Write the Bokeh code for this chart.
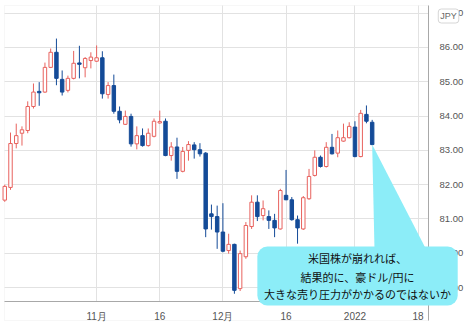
from bokeh.plotting import figure
from bokeh.models import (Range1d, FixedTicker, PrintfTickFormatter, ColumnDataSource,
                          BoxAnnotation, Label, Grid)
from bokeh.embed import file_html
from bokeh.resources import INLINE

# ---- data (AUD/JPY daily candles) ----
opens = [81.55, 81.92, 83.20, 83.50, 83.58, 84.28, 84.72, 84.70, 85.42, 85.86,
         85.07, 84.75, 85.10, 85.55, 85.41, 85.62, 85.60, 85.70, 84.63, 84.89,
         84.14, 83.76, 83.99, 83.19, 83.43, 83.14, 83.41, 83.80, 83.85, 82.85,
         83.10, 82.39, 83.00, 83.16, 83.02, 82.92, 81.15, 81.07, 80.62, 80.08,
         80.26, 78.97, 79.90, 80.78, 81.49, 81.10, 81.07, 80.96, 80.71, 81.69,
         81.56, 80.98, 80.71, 81.59, 82.27, 82.80, 82.53, 83.09, 82.92, 83.27,
         83.37, 83.68, 82.82, 84.05, 83.82]
highs = [82.00, 83.52, 83.78, 83.70, 84.43, 84.95, 84.99, 85.56, 85.97, 86.26,
         85.33, 85.18, 85.90, 86.05, 85.72, 85.86, 86.06, 85.89, 84.99, 85.21,
         84.28, 84.16, 84.07, 83.70, 83.64, 83.64, 83.93, 84.16, 83.93, 83.24,
         83.37, 83.10, 83.27, 83.24, 83.21, 82.95, 81.42, 81.39, 81.46, 80.57,
         80.28, 80.08, 80.91, 81.69, 81.69, 81.54, 81.25, 81.15, 81.88, 82.43,
         81.64, 81.10, 81.67, 82.46, 83.00, 82.85, 83.24, 83.48, 83.58, 83.78,
         83.82, 83.85, 84.18, 84.31, 83.89]
lows = [81.50, 81.85, 83.06, 83.14, 83.50, 84.22, 84.30, 84.68, 85.40, 84.90,
        84.60, 84.69, 85.07, 85.10, 85.13, 85.39, 85.58, 84.51, 84.51, 84.07,
        83.79, 83.74, 83.11, 83.03, 83.11, 83.11, 83.38, 83.78, 82.83, 82.70,
        82.17, 82.36, 82.70, 82.76, 82.82, 80.47, 80.69, 80.13, 80.03, 79.99,
        78.82, 78.90, 79.84, 80.71, 80.94, 80.96, 80.71, 80.47, 80.69, 81.55,
        80.95, 80.28, 80.68, 81.56, 82.24, 82.50, 82.50, 82.88, 82.80, 83.25,
        83.35, 82.80, 82.80, 83.79, 83.15]
closes = [81.95, 83.20, 83.43, 83.60, 84.28, 84.70, 84.68, 85.42, 85.86, 85.10,
          84.70, 85.10, 85.54, 85.51, 85.68, 85.72, 85.70, 84.65, 84.89, 84.14,
          83.89, 83.99, 83.19, 83.43, 83.14, 83.50, 83.85, 83.84, 82.85, 83.10,
          82.39, 82.97, 83.17, 83.02, 82.90, 80.71, 81.07, 80.62, 80.06, 80.26,
          78.92, 79.99, 80.81, 81.49, 81.07, 81.30, 80.96, 80.74, 81.83, 81.56,
          80.98, 80.74, 81.62, 82.24, 82.80, 82.53, 83.09, 82.90, 83.37, 83.37,
          83.70, 82.82, 84.08, 83.85, 83.17]

x_tick_index = [16, 27, 38, 49, 61, 72]
x_tick_labels = ["11月", "16", "12月", "16", "2022", "18"]
y_ticks = [79, 80, 81, 82, 83, 84, 85, 86, 87]

callout_lines = ["米国株が崩れれば、", "結果的に、豪ドル/円に", "大きな売り圧力がかかるのではないか"]

UP = "#e8625e"
DOWN = "#144b98"
CYAN = "#8cedf8"
GRID = "#e2e2e2"

# pane limits (data units): price pane and the date strip below it
PANE_L, PANE_R = -0.045, 73.81
PANE_T, PANE_B = 87.224, 78.595
STRIP_B = 78.04

idx = list(range(len(opens)))
up = [c >= o for o, c in zip(opens, closes)]
src = ColumnDataSource(dict(
    x=idx, o=opens, h=highs, l=lows, c=closes,
    top=[max(o, c) for o, c in zip(opens, closes)],
    bot=[min(o, c) for o, c in zip(opens, closes)],
    col=[UP if u else DOWN for u in up],
    fill=["white" if u else DOWN for u in up],
))

p = figure(width=473, height=330, output_backend="svg", toolbar_location=None,
           x_range=Range1d(-0.742, 81.65), y_range=Range1d(77.749, 87.370),
           y_axis_location="right",
           min_border_left=0, min_border_right=0, min_border_top=0, min_border_bottom=0)
p.background_fill_color = "white"
p.border_fill_color = "white"
p.outline_line_color = None

# chart border (pane + date strip)
p.add_layout(BoxAnnotation(left=PANE_L, right=PANE_R, top=PANE_T, bottom=STRIP_B,
                           fill_color=None, line_color="#e4e4e4", line_width=1,
                           level="underlay"))

# axes placed at the pane edges
p.xaxis.ticker = FixedTicker(ticks=x_tick_index)
p.xaxis.major_label_overrides = {t: s for t, s in zip(x_tick_index, x_tick_labels)}
p.xaxis.fixed_location = PANE_B
p.xaxis.bounds = (PANE_L, PANE_R)
p.yaxis.ticker = FixedTicker(ticks=y_ticks)
p.yaxis.formatter = PrintfTickFormatter(format="%.2f")
p.yaxis.fixed_location = PANE_R
p.yaxis.bounds = (STRIP_B, PANE_T)
for ax in (p.xaxis, p.yaxis):
    ax.major_tick_line_color = None
    ax.minor_tick_line_color = None
    ax.axis_line_color = "#a8a8a8"
    ax.major_label_text_color = "#555555"
    ax.major_label_text_font = "Liberation Sans"
p.yaxis.major_label_text_font_size = "9.5px"
p.xaxis.major_label_text_font_size = "10px"
p.yaxis.major_label_standoff = 5
p.xaxis.major_label_standoff = 4

p.xgrid.ticker = FixedTicker(ticks=x_tick_index)
p.ygrid.ticker = FixedTicker(ticks=y_ticks)
p.grid.grid_line_color = GRID
p.grid.grid_line_width = 1
if "cross_bounds" in Grid.properties():
    p.xgrid.cross_bounds = (PANE_B, PANE_T)
    p.ygrid.cross_bounds = (PANE_L, PANE_R)
else:
    p.grid.visible = False
    p.segment(x0=x_tick_index, x1=x_tick_index, y0=[PANE_B] * len(x_tick_index),
              y1=[PANE_T] * len(x_tick_index), line_color=GRID, level="underlay")
    p.segment(x0=[PANE_L] * len(y_ticks), x1=[PANE_R] * len(y_ticks), y0=y_ticks,
              y1=y_ticks, line_color=GRID, level="underlay")

# candles
p.segment(x0="x", x1="x", y0="l", y1="h", line_color="col", line_width=1, source=src)
p.vbar(x="x", width=0.6, top="top", bottom="bot", fill_color="fill", line_color="col",
       line_width=1, source=src)

# callout pointer from the last candle
last = len(closes) - 1
p.patch(x=[last, last + 0.4, last + 9.3], y=[closes[-1], 80.15, 80.15],
        fill_color=CYAN, line_color=None)

box = BoxAnnotation(left=44.0, right=78.9, top=80.198, bottom=78.478,
                    fill_color=CYAN, fill_alpha=1, line_color=None, border_radius=10)
p.add_layout(box)

for txt, yy in zip(callout_lines, [79.85, 79.32, 78.80]):
    p.add_layout(Label(x=61.45, y=yy, text=txt, text_align="center", text_baseline="middle",
                       text_font="Noto Sans CJK JP", text_font_size="11px",
                       text_color="#111111"))

p.add_layout(Label(x=77.3, y=86.918, text="JPY", text_align="center", text_baseline="middle",
                   text_font="Liberation Sans", text_font_size="9px", text_color="#666666",
                   background_fill_color="white", border_line_color="#d6d6d6",
                   border_radius=3, padding=2))

open("out.html", "w").write(file_html(p, INLINE))
